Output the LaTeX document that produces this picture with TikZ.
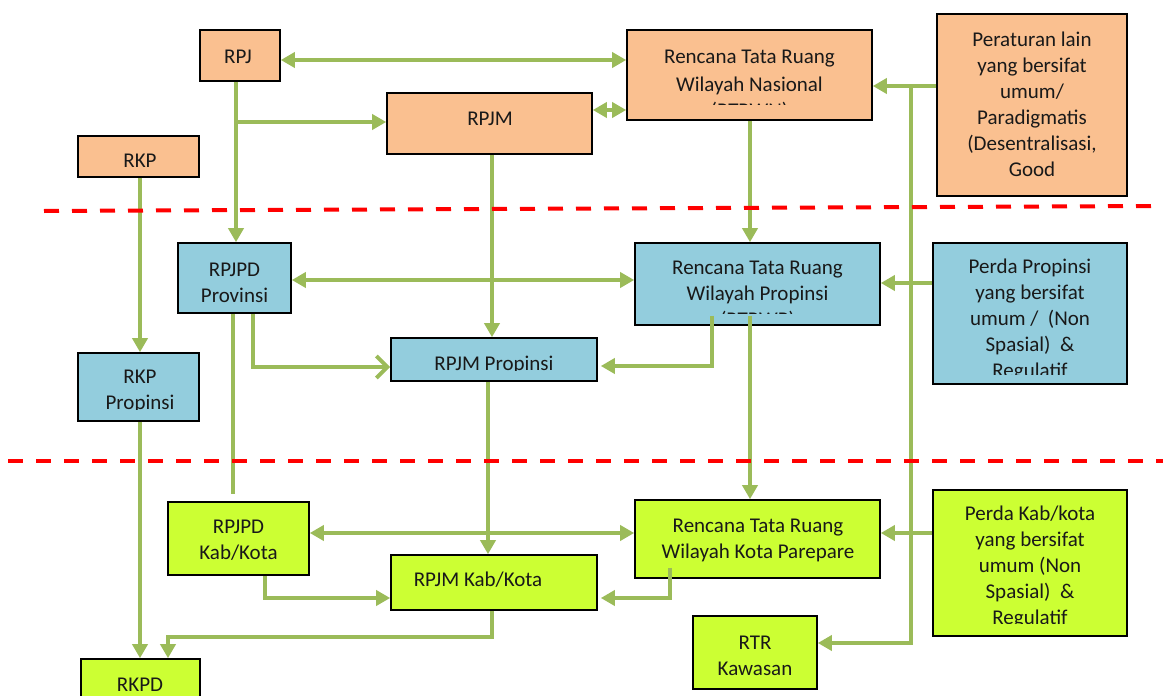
\documentclass[tikz,border=0pt]{standalone}
\usepackage{fontspec}
\setmainfont{Carlito}
\usetikzlibrary{arrows.meta,calc}
\definecolor{orangef}{HTML}{FAC090}
\definecolor{bluef}{HTML}{93CDDD}
\definecolor{greenf}{HTML}{CCFF33}
\definecolor{lgreen}{HTML}{9BBB59}
\newcommand\mainsize{\fontsize{21pt}{26pt}\selectfont}
\newcommand\mkbox[6]{\node[#6, minimum width={(#4-#2)*1pt}, minimum height={(#5-#3)*1pt}] (#1) at ({(#2+#4)/2},{(#3+#5)/2}) {};}
\tikzset{
  box/.style={draw=black, line width=1.6pt, inner sep=0pt, anchor=center},
  ob/.style={box, fill=orangef},
  bb/.style={box, fill=bluef},
  gb/.style={box, fill=greenf},
  gl/.style={draw=lgreen, line width=4pt},
  arr/.style={gl, -{Triangle[length=14pt,width=15pt]}},
  dbl/.style={gl, {Triangle[length=14pt,width=15pt]}-{Triangle[length=14pt,width=15pt]}},
  oarr/.style={gl, -{Straight Barb[length=11pt,width=22pt]}},
  txt/.style={align=center, inner sep=0pt, font=\mainsize, text=black!90},
  reddash/.style={draw=red, line width=4pt, dash pattern=on 15pt off 13pt},
}
\begin{document}
\begin{tikzpicture}[x=1pt,y=-1pt]
\useasboundingbox (0,0) rectangle (1163,696);
% helper levels
\foreach \v in {60,86,110,122,280,283,366,367,533,598,637,643} \coordinate (h\v) at (0,\v);
\foreach \v in {140,168,233,236,253,265,488,492,670,712,750} \coordinate (v\v) at (\v,0);
% boxes
\mkbox{rpj}{200}{30}{280}{81}{ob}
\mkbox{rkp}{78}{136}{199}{177}{ob}
\mkbox{rpjm}{387}{93}{592}{154}{ob}
\mkbox{rtrwn}{627}{30}{872}{120}{ob}
\mkbox{per}{937}{14}{1127}{196}{ob}
\mkbox{rpjpdp}{178}{243}{291}{313}{bb}
\mkbox{rkpp}{78}{353}{199}{421}{bb}
\mkbox{rpjmp}{391}{338}{597}{381}{bb}
\mkbox{rtrwp}{635}{243}{880}{325}{bb}
\mkbox{perp}{933}{243}{1127}{384}{bb}
\mkbox{rpjpdk}{168}{502}{309}{575}{gb}
\mkbox{rkpd}{81}{659}{200}{712}{gb}
\mkbox{rpjmk}{391}{555}{597}{610}{gb}
\mkbox{rtrwk}{635}{500}{880}{578}{gb}
\mkbox{rtr}{693}{616}{817}{689}{gb}
\mkbox{perk}{933}{490}{1127}{636}{gb}
% texts
\node[txt] (rpj-t) at (238,57) {RPJ};
\node[txt] (rpjm-t) at (490,119) {RPJM};
\begin{scope}\clip (630,33) rectangle (869,104);
\node[txt] (rtrwn-t) at (749.5,85) {Rencana Tata Ruang\\[1.5pt]Wilayah Nasional\\(RTRWN)};
\end{scope}
\node[txt] (per-t) at (1032,104) {Peraturan lain\\yang bersifat\\umum/\\Paradigmatis\\(Desentralisasi,\\Good};
\node[txt] (rkp-t) at (140,161) {RKP};
\begin{scope}\clip (180,245) rectangle (289,302);
\node[txt] (rpjpdp-t) at (234.5,283) {RPJPD\\Provinsi};
\end{scope}
\begin{scope}\clip (80,355) rectangle (197,409);
\node[txt] (rkpp-t) at (140,391) {RKP\\Propinsi};
\end{scope}
\begin{scope}\clip (393,340) rectangle (595,370);
\node[txt] (rpjmp-t) at (494,365) {RPJM Propinsi};
\end{scope}
\begin{scope}\clip (637,245) rectangle (878,313);
\node[txt] (rtrwp-t) at (757.5,295) {Rencana Tata Ruang\\Wilayah Propinsi\\(RTRWP)};
\end{scope}
\begin{scope}\clip (935,245) rectangle (1125,374);
\node[txt] (perp-t) at (1030,320) {Perda Propinsi\\yang bersifat\\umum /\ \ (Non\\Spasial)\ \ \&\\Regulatif};
\end{scope}
\node[txt] (rpjpdk-t) at (238.5,540) {RPJPD\\Kab/Kota};
\node[txt] (rkpd-t) at (140,685) {RKPD};
\node[txt] (rpjmk-t) at (478,580) {RPJM Kab/Kota};
\node[txt] (rtrwk-t) at (758,540) {Rencana Tata Ruang\\Wilayah Kota Parepare};
\node[txt] (rtr-t) at (755,656) {RTR\\Kawasan};
\begin{scope}\clip (935,492) rectangle (1125,623);
\node[txt] (perk-t) at (1030,567) {Perda Kab/kota\\yang bersifat\\umum (Non\\Spasial)\ \ \&\\Regulatif};
\end{scope}
% connectors
\coordinate (j1) at (236,122);
\coordinate (j2) at (911,86);
\coordinate (j3) at (911,643);
\coordinate (endp) at (233,494);
\draw[dbl] (rpj.east |- h60) -- (rtrwn.west |- h60);
\draw[arr] (rpj.south -| v236) -- (rpjpdp.north -| v236);
\draw[arr] (j1) -- (rpjm.west |- h122);
\draw[dbl] (rpjm.east |- h110) -- (rtrwn.west |- h110);
\draw[arr] (rkp.south -| v140) -- (rkpp.north -| v140);
\draw[arr] (rpjm.south -| v492) -- (rpjmp.north -| v492);
\draw[arr] (rtrwn.south -| v750) -- (rtrwp.north -| v750);
\draw[arr] (per.west |- h86) -- (rtrwn.east |- h86);
\draw[arr] (j2) -- (j3) -- (rtr.east |- h643);
\draw[dbl] (rpjpdp.east |- h280) -- (rtrwp.west |- h280);
\draw[gl] (rpjpdp.south -| v233) -- (endp);
\draw[oarr] (rpjpdp.south -| v253) |- (rpjmp.west |- h367);
\draw[arr, shorten >=3pt] ($(rtrwp.south -| v712)+(0,-10)$) |- (rpjmp.east |- h366);
\draw[arr] ($(rtrwp.south -| v750)+(0,-10)$) -- (rtrwk.north -| v750);
\draw[arr] (perp.west |- h283) -- (rtrwp.east |- h283);
\draw[arr] (rkpp.south -| v140) -- (rkpd.north -| v140);
\draw[arr] (rpjmp.south -| v488) -- (rpjmk.north -| v488);
\draw[dbl] (rpjpdk.east |- h533) -- (rtrwk.west |- h533);
\draw[arr] (rpjpdk.south -| v265) |- (rpjmk.west |- h598);
\draw[arr, shorten >=3pt] ($(rtrwk.south -| v670)+(0,-11)$) |- (rpjmk.east |- h598);
\draw[arr] (rpjmk.south -| v492) |- (v168 |- h637) -- (rkpd.north -| v168);
\draw[arr] (perk.west |- h533) -- (rtrwk.east |- h533);
% red dashed boundaries
\coordinate (d1a) at (44,211); \coordinate (d1b) at (1155,206);
\coordinate (d2a) at (8,461); \coordinate (d2b) at (1163,461);
\draw[reddash] (d1a) -- (d1b);
\draw[reddash] (d2a) -- (d2b);
\end{tikzpicture}
\end{document}
